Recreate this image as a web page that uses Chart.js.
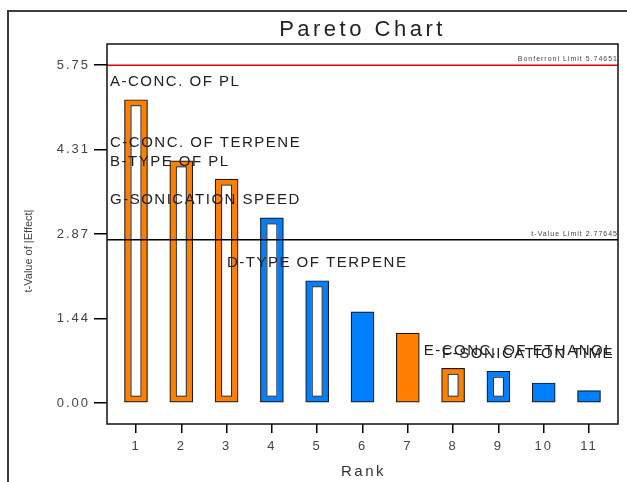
<!DOCTYPE html>
<html>
<head>
<meta charset="utf-8">
<title>Pareto Chart</title>
<script src="https://cdn.jsdelivr.net/npm/chart.js@4.4.1/dist/chart.umd.min.js"></script>
<style>
html,body{margin:0;padding:0;background:#fff;overflow:hidden}
#cont{position:relative;width:627px;height:482px}
</style>
</head>
<body>
<div id="cont"><canvas id="grafica" width="627" height="482"></canvas></div>
<script>
var rangos=[1,2,3,4,5,6,7,8,9,10,11];
var valores=[5.16,4.12,3.81,3.15,2.08,1.55,1.19,0.59,0.54,0.34,0.21];
var positivo=[true,true,true,false,false,false,true,true,false,false,false];
var hueco=[true,true,true,true,true,false,false,true,true,false,false];
var etiquetas=["A-CONC. OF PL","C-CONC. OF TERPENE","B-TYPE OF PL","G-SONICATION SPEED","D-TYPE OF TERPENE","","","E-CONC. OF ETHANOL","F-SONICATION TIME","",""];
var yTicks=[0,1.4375,2.875,4.3125,5.75];
var yTickLabels=["0.00","1.44","2.87","4.31","5.75"];
var limites=[5.74651,2.77645];
var limiteTextos=["Bonferroni Limit 5.74651","t-Value Limit 2.77645"];

var naranja="#ff8000", azul="#0080ff";
var fuente="Liberation Sans, Arial, sans-serif";

var marco={
	id:'marco',
	beforeDraw:function(c){
		var ctx=c.ctx;
		ctx.save();
		ctx.fillStyle='#fff';
		ctx.fillRect(0,0,c.width,c.height);
		ctx.strokeStyle='#3c3c3c';
		ctx.lineWidth=2;
		ctx.strokeRect(8,11,700,600);
		ctx.restore();
		// tick labels are spaced out in the original
		ctx.letterSpacing='2px';
	},
	afterDatasetsDraw:function(c){
		var ctx=c.ctx, a=c.chartArea, meta=c.getDatasetMeta(0);
		ctx.save();
		// inner white part of hollow bars
		meta.data.forEach(function(el,i){
			if(!hueco[i]) return;
			var p=el.getProps(['x','y','base','width'],true);
			var l=p.x-p.width/2+6, r=p.x+p.width/2-6;
			var t=p.y+5.5, b=p.base-5.5;
			if(b-t<2) return;
			ctx.fillStyle='#fff';
			ctx.fillRect(l,t,r-l,b-t);
			ctx.strokeStyle='#1a1a1a';
			ctx.lineWidth=1;
			ctx.strokeRect(l+0.5,t+0.5,r-l-1,b-t-1);
		});
		// limit lines
		limites.forEach(function(v,i){
			var y=c.scales.y.getPixelForValue(v);
			ctx.strokeStyle=i==0?'#e00000':'#000';
			ctx.lineWidth=1.5;
			ctx.beginPath();
			ctx.moveTo(a.left,y);
			ctx.lineTo(a.right,y);
			ctx.stroke();
			ctx.font='7px '+fuente;
			ctx.letterSpacing='1px';
			ctx.fillStyle='#444';
			ctx.textAlign='right';
			ctx.textBaseline='alphabetic';
			ctx.fillText(limiteTextos[i],a.right,y-4);
		});
		// factor names above bars: significant ones go to the left edge,
		// the rest centred on the bar, the small ones pushed to the right edge
		ctx.font='15px '+fuente;
		ctx.letterSpacing='1.5px';
		ctx.fillStyle='#222';
		ctx.textAlign='left';
		ctx.textBaseline='alphabetic';
		meta.data.forEach(function(el,i){
			if(!etiquetas[i]) return;
			var w=ctx.measureText(etiquetas[i]).width;
			var x=el.x-w/2;
			if(valores[i]>limites[1]) x=a.left+3;
			else if(rangos[i]>rangos.length/2+1) x=a.right-4-w;
			if(x<a.left+3) x=a.left+3;
			if(x+w>a.right-4) x=a.right-4-w;
			ctx.fillText(etiquetas[i],x,el.y-13.5);
		});
		// plot frame
		ctx.strokeStyle='#111';
		ctx.lineWidth=1.5;
		ctx.strokeRect(a.left,a.top,a.right-a.left,a.bottom-a.top);
		ctx.restore();
	},
	afterDraw:function(c){
		var ctx=c.ctx, a=c.chartArea;
		ctx.save();
		ctx.textAlign='center';
		ctx.textBaseline='alphabetic';
		ctx.fillStyle='#222';
		ctx.font='22px '+fuente;
		ctx.letterSpacing='3.5px';
		ctx.fillText('Pareto Chart',(a.left+a.right)/2,36);
		ctx.fillStyle='#333';
		ctx.font='15px '+fuente;
		ctx.letterSpacing='2.5px';
		ctx.fillText('Rank',(a.left+a.right)/2+1,476);
		ctx.translate(32,251);
		ctx.rotate(-Math.PI/2);
		ctx.fillStyle='#444';
		ctx.font='11px '+fuente;
		ctx.letterSpacing='0px';
		ctx.fillText('t-Value of |Effect|',0,0);
		ctx.restore();
		ctx.letterSpacing='0px';
	}
};

var datos=rangos.map(function(r,i){return {x:r,y:valores[i]};});

new Chart(document.getElementById("grafica"),{
	type:'bar',
	data:{
		datasets:[{
			data:datos,
			backgroundColor:positivo.map(function(p){return p?naranja:azul;}),
			borderColor:'#1a1a1a',
			borderWidth:1.2,
			borderSkipped:false,
			barThickness:23
		}]
	},
	options:{
		responsive:false,
		animation:false,
		events:[],
		layout:{padding:{top:44,right:9,left:0,bottom:0}},
		plugins:{legend:{display:false},tooltip:{enabled:false}},
		scales:{
			x:{
				type:'linear',
				min:0.36,
				max:11.64,
				offset:false,
				afterFit:function(s){s.height=58;},
				afterBuildTicks:function(s){s.ticks=rangos.map(function(v){return {value:v};});},
				grid:{drawOnChartArea:false,offset:false,color:'#000',lineWidth:1.5,tickLength:9},
				border:{display:false},
				ticks:{color:'#444',font:{size:13,family:fuente},padding:6,maxRotation:0,callback:function(v){return v;}}
			},
			y:{
				min:-0.358,
				max:6.108,
				afterFit:function(s){s.width=107;},
				afterBuildTicks:function(s){s.ticks=yTicks.map(function(v){return {value:v};});},
				grid:{drawOnChartArea:false,color:'#000',lineWidth:1.5,tickLength:13},
				border:{display:false},
				ticks:{color:'#444',font:{size:13,family:fuente},padding:4,callback:function(v,i){return yTickLabels[i];}}
			}
		}
	},
	plugins:[marco]
});
</script>
</body>
</html>
